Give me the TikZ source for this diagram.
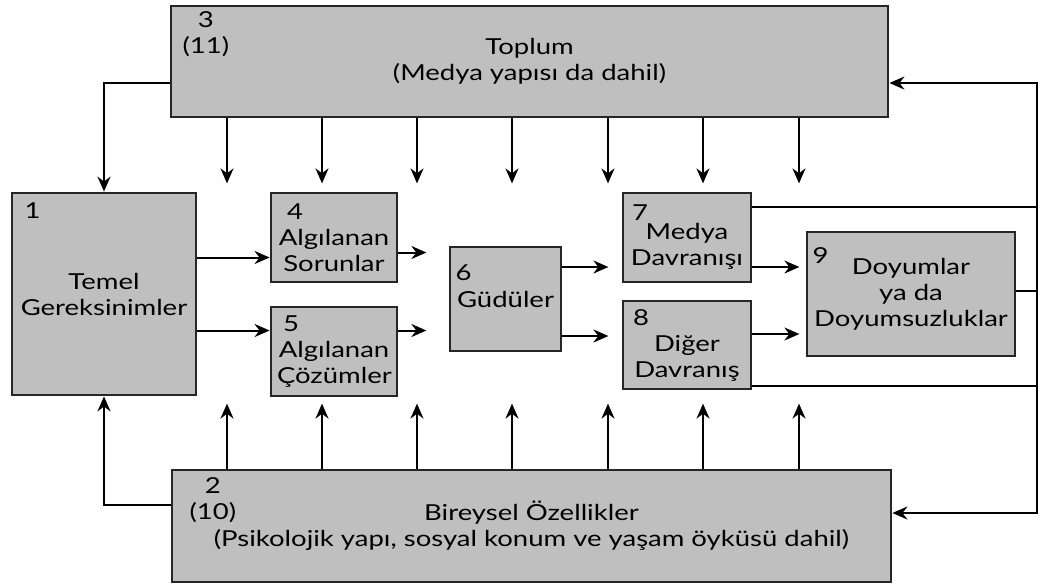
\documentclass[tikz,border=0pt]{standalone}
\usepackage{fontspec}
\setmainfont{Lato}[FakeStretch=1.25]
\usetikzlibrary{arrows.meta}

\newcommand{\kutuno}[2][0pt]{\makebox[\linewidth][l]{\hspace*{#1}#2}}

\tikzset{
	kutu/.style={draw=black!85, fill=black!25, line width=1.4pt, align=center, inner xsep=3pt, font=\fontsize{11}{13}\selectfont},
	numara/.style={anchor=north west, inner sep=0pt, align=center, font=\fontsize{11}{13}\selectfont},
}

\begin{document}
\begin{tikzpicture} [x=0.5pt, y=-0.5pt, line width=1pt, >={Stealth[length=7.5pt,width=6.5pt]}]
\useasboundingbox (0,0) rectangle (1040,586);

\node[kutu, minimum width=358.5pt, minimum height=55.5pt, label={[numara, xshift=6pt, yshift=-3pt]north west:3\\(11)}]	(toplum)	at (529.5,61.5)	{Toplum\\(Medya yapısı da dahil)};
\node[kutu, minimum width=92pt, minimum height=101pt, label={[numara, xshift=6.5pt, yshift=-5pt]north west:1}]	(temel)	at (104,294)	{Temel\\Gereksinimler};
\node[kutu, minimum width=359.5pt, minimum height=56pt, label={[numara, xshift=9pt, yshift=-4pt]north west:2\\(10)}]	(bireysel)	at (531.5,526)	{Bireysel Özellikler\\(Psikolojik yapı, sosyal konum ve yaşam öyküsü dahil)};
\node[kutu, text width=57pt, minimum height=44.5pt]	(sorun)	at (334,237.5)	{\kutuno[5pt]{4}\\Algılanan\\Sorunlar};
\node[kutu, text width=57pt, minimum height=44.5pt]	(cozum)	at (334,351.5)	{\kutuno[3pt]{5}\\Algılanan\\Çözümler};
\node[kutu, minimum width=55.5pt, minimum height=52pt, label={[numara, xshift=3pt, yshift=-9pt]north west:6}]	(gudu)	at (505.5,299)	{Güdüler};
\node[kutu, text width=58pt, minimum height=44.5pt]	(medya)	at (687,237.5)	{\kutuno[1.5pt]{7}\\[-3.5pt]Medya\\Davranışı};
\node[kutu, text width=58pt, minimum height=44pt]	(diger)	at (687,345)	{\kutuno[2pt]{8}\\Diğer\\Davranış};
\node[kutu, minimum width=104pt, minimum height=62pt, label={[numara, xshift=3pt, yshift=-8pt]north west:9}]	(doyum)	at (911,294)	{Doyumlar\\ya da\\Doyumsuzluklar};

\coordinate (geri ust) at (1037,83);
\coordinate (geri alt) at (1037,513);
\coordinate (sol alt) at (102,505);

% toplum ve bireysel ozellikler -> temel gereksinimler
\draw[->] (toplum.west |- geri ust) -| (temel.north);
\draw[->] (bireysel.west |- sol alt) -| (temel.south);

% geri besleme
\draw[<->] (toplum.east |- geri ust) -- (geri ust) -- (geri alt) -- (bireysel.east |- geri alt);
\draw ([yshift=-7.5pt]medya.north east) -- ([yshift=-7.5pt]medya.north east -| geri ust);
\draw ([yshift=1.5pt]doyum.east) -- ([yshift=1.5pt]doyum.east -| geri ust);
\draw ([yshift=2pt]diger.south east) -- ([yshift=2pt]diger.south east -| geri ust);

\foreach \x in {227,322,417,512,608,703,799}
{
	\draw[->] (\x,0 |- toplum.south) -- ++(0,65);
	\draw[->] (\x,0 |- bireysel.north) -- ++(0,-65);
}

\draw[->] ([yshift=-10pt]temel.east |- sorun.west) -- ([yshift=-10pt]sorun.west);
\draw[->] ([yshift=10.5pt]temel.east |- cozum.west) -- ([yshift=10.5pt]cozum.west);
\draw[->] ([yshift=-7.5pt]sorun.east) -- ++(28,0);
\draw[->] ([yshift=10.5pt]cozum.east) -- ++(28,0);
\draw[->] ([yshift=16pt]gudu.east) -- ++(46,0);
\draw[->] ([yshift=-18.5pt]gudu.east) -- ++(46,0);
\draw[->] ([yshift=-14.75pt]medya.east) -- ++(47,0);
\draw[->] ([yshift=5.5pt]diger.east) -- ++(47,0);

\end{tikzpicture}
\end{document}
